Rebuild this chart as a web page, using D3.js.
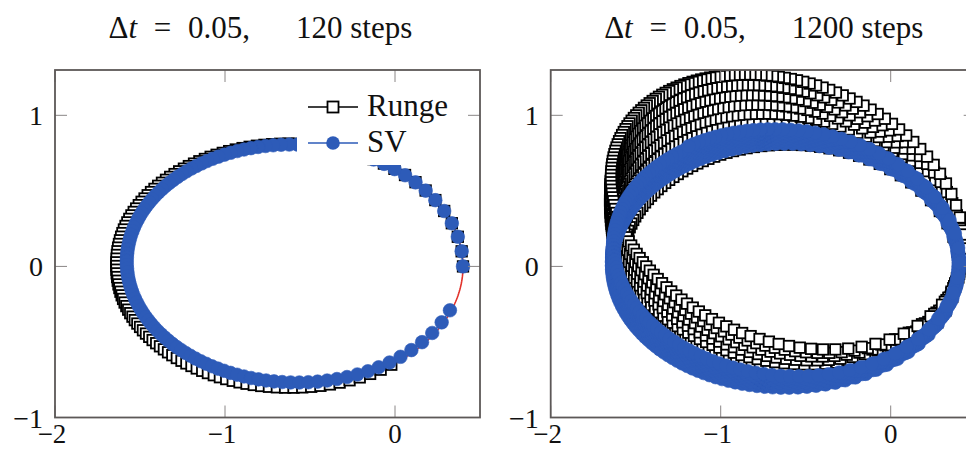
<!DOCTYPE html>
<html><head><meta charset="utf-8">
<script src="https://cdn.jsdelivr.net/npm/d3@7"></script>
<style>html,body{margin:0;padding:0;background:#fff;overflow:hidden}</style>
</head><body>
<svg id="chart" width="966" height="450"></svg>
<script>
// ---- data / parameters of the figure ----
const stepSize = 0.05;                 // Δt
const stepCounts = [120, 1200];        // steps per panel
const panelTitles = ["120 steps", "1200 steps"];
const eccentricity = [0.6];            // Kepler orbit eccentricity
const seriesNames = ["Runge", "SV"];
// which integrator's trajectory the reference draws with each marker style, per panel
// (in the left panel the square-marker trajectory is the Verlet one)
const squareSeriesMethod = ["verlet", "midpoint"];
const circleSeriesMethod = ["midpoint", "verlet"];
const xTicks = [-2, -1, 0];
const yTicks = [-1, 0, 1];
const xDomain = [-2, 0.5];
const yDomain = [-1, 1.3];

// ---- Kepler problem integrators (how the plotted points were produced) ----
const ecc = eccentricity[0];
const q0 = [1 - ecc, 0], p0 = [0, Math.sqrt((1 + ecc) / (1 - ecc))];
function force(q){ const r = Math.hypot(q[0], q[1]); const r3 = r*r*r; return [-q[0]/r3, -q[1]/r3]; }
function midpoint(n, h){ // Runge's (explicit midpoint) method
  let q = q0.slice(), p = p0.slice(); const out = [q.slice()];
  for (let i = 0; i < n; i++){
    const f = force(q);
    const qm = [q[0] + h/2*p[0], q[1] + h/2*p[1]];
    const pm = [p[0] + h/2*f[0], p[1] + h/2*f[1]];
    const fm = force(qm);
    q = [q[0] + h*pm[0], q[1] + h*pm[1]];
    p = [p[0] + h*fm[0], p[1] + h*fm[1]];
    out.push(q.slice());
  }
  return out;
}
function verlet(n, h){ // Störmer–Verlet
  let q = q0.slice(), p = p0.slice(); const out = [q.slice()];
  for (let i = 0; i < n; i++){
    let f = force(q);
    const ph = [p[0] + h/2*f[0], p[1] + h/2*f[1]];
    q = [q[0] + h*ph[0], q[1] + h*ph[1]];
    f = force(q);
    p = [ph[0] + h/2*f[0], ph[1] + h/2*f[1]];
    out.push(q.slice());
  }
  return out;
}
const integrators = {midpoint, verlet};
// exact orbit (ellipse with focus at origin)
const exactAngles = d3.range(0, 361, 1);
const exactOrbit = exactAngles.map(a => [-ecc + Math.cos(a*Math.PI/180), Math.sqrt(1-ecc*ecc)*Math.sin(a*Math.PI/180)]);

// ---- styles ----
const BLUE = "#2d5bb8", RED = "#e2322b", FRAME = "#5c5857";
const FONT = "'Liberation Serif', 'DejaVu Serif', serif";

const svg = d3.select("#chart");
const plotW = 425, plotH = 347.5, plotTop = 70;
const lefts = [55, 550.7];

lefts.forEach((left, k) => {
  const x = d3.scaleLinear().domain(xDomain).range([left, left + plotW]);
  const y = d3.scaleLinear().domain(yDomain).range([plotTop + plotH, plotTop]);
  const g = svg.append("g");
  const clipId = "clip" + k;
  svg.append("clipPath").attr("id", clipId).append("rect")
    .attr("x", left).attr("y", plotTop).attr("width", plotW).attr("height", plotH);
  const plot = g.append("g").attr("clip-path", `url(#${clipId})`);
  const line = d3.line().x(d => x(d[0])).y(d => y(d[1]));

  // exact solution
  plot.append("path").datum(exactOrbit).attr("d", line)
    .attr("fill", "none").attr("stroke", RED).attr("stroke-width", 1.6);

  const n = stepCounts[k];
  const sq = integrators[squareSeriesMethod[k]](n, stepSize);
  const ci = integrators[circleSeriesMethod[k]](n, stepSize);

  plot.append("path").datum(sq).attr("d", line)
    .attr("fill", "none").attr("stroke", "#000").attr("stroke-width", 1);
  const s = 10.5;
  plot.append("g").selectAll("rect").data(sq).join("rect")
    .attr("x", d => x(d[0]) - s/2).attr("y", d => y(d[1]) - s/2)
    .attr("width", s).attr("height", s)
    .attr("fill", "#fff").attr("stroke", "#000").attr("stroke-width", 1.8);

  plot.append("path").datum(ci).attr("d", line)
    .attr("fill", "none").attr("stroke", BLUE).attr("stroke-width", 1.2);
  plot.append("g").selectAll("circle").data(ci).join("circle")
    .attr("cx", d => x(d[0])).attr("cy", d => y(d[1])).attr("r", 6.8)
    .attr("fill", BLUE).attr("stroke", BLUE).attr("stroke-width", 0.6);

  // legend (left panel only)
  if (k === 0){
    const lg = g.append("g");
    lg.append("rect").attr("x", 297).attr("y", 86).attr("width", 178).attr("height", 79).attr("fill", "#fff");
    const rows = [{name: seriesNames[0], y: 107}, {name: seriesNames[1], y: 143}];
    rows.forEach((r, i) => {
      lg.append("line").attr("x1", 308).attr("x2", 358).attr("y1", r.y).attr("y2", r.y)
        .attr("stroke", i === 0 ? "#000" : BLUE).attr("stroke-width", 1.6);
      if (i === 0) lg.append("rect").attr("x", 333 - 5.5).attr("y", r.y - 5.5).attr("width", 11).attr("height", 11)
        .attr("fill", "#fff").attr("stroke", "#000").attr("stroke-width", 1.8);
      else lg.append("circle").attr("cx", 333).attr("cy", r.y).attr("r", 6.8).attr("fill", BLUE);
      lg.append("text").attr("x", 367).attr("y", r.y + 9).text(r.name)
        .attr("font-family", FONT).attr("font-size", 31).attr("fill", "#111");
    });
  }

  // frame and ticks (inward, on all four sides)
  const tl = 12;
  const ax = g.append("g");
  xTicks.forEach(t => {
    ax.append("line").attr("x1", x(t)).attr("x2", x(t)).attr("y1", plotTop + plotH).attr("y2", plotTop + plotH - tl)
      .attr("stroke", "#8a8686").attr("stroke-width", 1);
    ax.append("line").attr("x1", x(t)).attr("x2", x(t)).attr("y1", plotTop).attr("y2", plotTop + tl)
      .attr("stroke", "#8a8686").attr("stroke-width", 1);
    ax.append("text").attr("x", x(t) - (t < 0 ? 3 : 0)).attr("y", 443).attr("text-anchor", "middle")
      .attr("font-family", FONT).attr("font-size", 27).attr("fill", "#111")
      .text(t < 0 ? "\u2212" + Math.abs(t) : String(t));
  });
  yTicks.forEach(t => {
    ax.append("line").attr("x1", left).attr("x2", left + tl).attr("y1", y(t)).attr("y2", y(t))
      .attr("stroke", "#8a8686").attr("stroke-width", 1);
    ax.append("line").attr("x1", left + plotW).attr("x2", left + plotW - tl).attr("y1", y(t)).attr("y2", y(t))
      .attr("stroke", "#8a8686").attr("stroke-width", 1);
    ax.append("text").attr("x", left - 12).attr("y", y(t) + 10).attr("text-anchor", "end")
      .attr("font-family", FONT).attr("font-size", 28).attr("fill", "#111")
      .text(t < 0 ? "\u2212" + Math.abs(t) : String(t));
  });
  ax.append("rect").attr("x", left).attr("y", plotTop).attr("width", plotW).attr("height", plotH)
    .attr("fill", "none").attr("stroke", FRAME).attr("stroke-width", 1.8);

  // title
  const tt = g.append("text").attr("y", 38).attr("font-family", FONT).attr("font-size", 31).attr("fill", "#111")
    .attr("x", left + 195).attr("text-anchor", "end").attr("word-spacing", 9);
  tt.append("tspan").text("\u0394");
  tt.append("tspan").attr("font-style", "italic").text("t");
  tt.append("tspan").text(" = " + stepSize.toFixed(2) + ",");
  g.append("text").attr("y", 38).attr("x", left + 241).attr("font-family", FONT).attr("font-size", 31).attr("fill", "#111")
    .text(panelTitles[k]);
});
</script>
</body></html>
